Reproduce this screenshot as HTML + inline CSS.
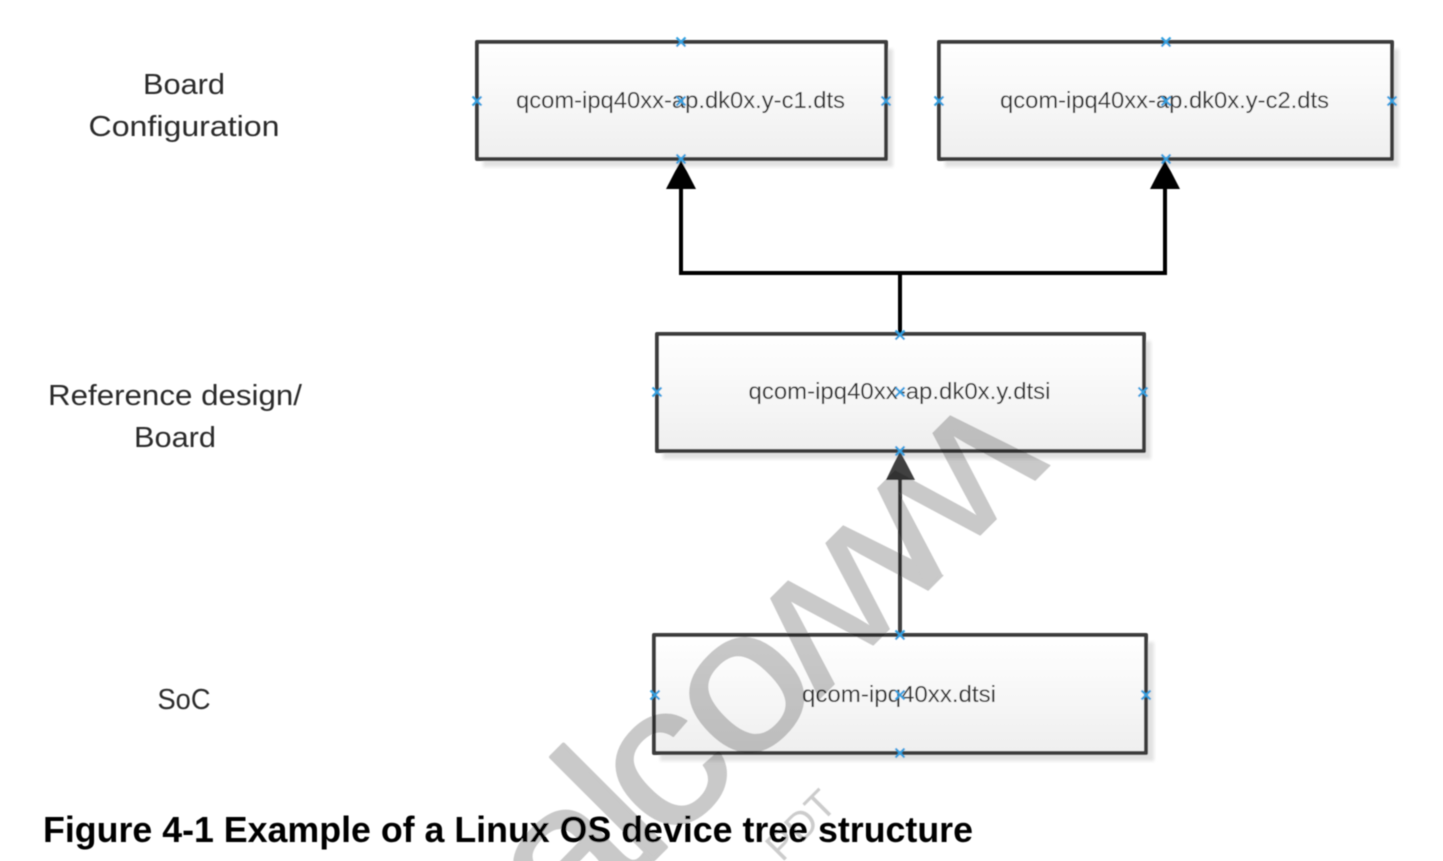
<!DOCTYPE html>
<html><head><meta charset="utf-8"><style>
html,body{margin:0;padding:0;background:#fff;width:1443px;height:861px;overflow:hidden}
svg{display:block}
</style></head><body>
<svg width="1443" height="861" viewBox="0 0 1443 861" xmlns="http://www.w3.org/2000/svg">
<defs>
<linearGradient id="g" x1="0" y1="0" x2="0" y2="1"><stop offset="0" stop-color="#ffffff"/><stop offset="1" stop-color="#efefef"/></linearGradient>
<filter id="s" x="-5%" y="-10%" width="110%" height="120%"><feGaussianBlur stdDeviation="1.5"/></filter>
<filter id="b" x="-5%" y="-5%" width="110%" height="110%"><feGaussianBlur stdDeviation="0.45"/></filter>
<g id="x"><path d="M-4.5,-4.5L4.5,4.5M-4.5,4.5L4.5,-4.5" stroke="#35a0e0" stroke-width="2.2" fill="none"/></g>
</defs>
<g filter="url(#b)">
<g fill="#e2e2e2" filter="url(#s)">
<rect x="483" y="49" width="410" height="118"/>
<rect x="945" y="49" width="454" height="118"/>
<rect x="663" y="341" width="488" height="118"/>
<rect x="660" y="642" width="494" height="119"/>
</g>
<g fill="url(#g)" stroke="#3c3c3c" stroke-width="4" stroke-linejoin="round">
<rect x="477" y="42" width="409" height="117"/>
<rect x="939" y="42" width="453" height="117"/>
<rect x="657" y="334" width="487" height="117"/>
<rect x="654" y="635" width="492" height="118"/>
</g>
<g fill="none" stroke="#000" stroke-width="4">
<path d="M681,185V273H1165V185"/>
<path d="M900,273V334"/>
</g>
<path d="M681,160L696,189H666Z" fill="#000"/>
<path d="M1165,160L1180,189H1150Z" fill="#000"/>
<path d="M900,635V475" stroke="#404040" stroke-width="4" fill="none"/>
<path d="M900,451L915,480H886Z" fill="#404040"/>
<g font-family="'Liberation Sans',sans-serif" font-size="23" fill="#333" text-anchor="middle">
<text x="680.5" y="108" textLength="329" lengthAdjust="spacingAndGlyphs">qcom-ipq40xx-ap.dk0x.y-c1.dts</text>
<text x="1164.5" y="108" textLength="329" lengthAdjust="spacingAndGlyphs">qcom-ipq40xx-ap.dk0x.y-c2.dts</text>
<text x="899.5" y="399" textLength="302" lengthAdjust="spacingAndGlyphs">qcom-ipq40xx-ap.dk0x.y.dtsi</text>
<text x="899" y="702" textLength="194" lengthAdjust="spacingAndGlyphs">qcom-ipq40xx.dtsi</text>
</g>
<g font-family="'Liberation Sans',sans-serif" font-size="29" fill="#2c2c2c" text-anchor="middle">
<text x="184" y="94" textLength="82" lengthAdjust="spacingAndGlyphs">Board</text>
<text x="184" y="136" textLength="191" lengthAdjust="spacingAndGlyphs">Configuration</text>
<text x="175" y="405" textLength="254" lengthAdjust="spacingAndGlyphs">Reference design/</text>
<text x="175" y="447" textLength="82" lengthAdjust="spacingAndGlyphs">Board</text>
<text x="184" y="709" textLength="53" lengthAdjust="spacingAndGlyphs">SoC</text>
</g>
<text x="43" y="842" font-family="'Liberation Sans',sans-serif" font-weight="bold" font-size="36" fill="#000" textLength="930" lengthAdjust="spacingAndGlyphs">Figure 4-1 Example of a Linux OS device tree structure</text>
<g>
<use href="#x" x="681" y="42"/><use href="#x" x="477" y="101"/><use href="#x" x="681" y="101"/><use href="#x" x="886" y="101"/><use href="#x" x="681" y="159"/>
<use href="#x" x="1166" y="42"/><use href="#x" x="939" y="101"/><use href="#x" x="1166" y="101"/><use href="#x" x="1392" y="101"/><use href="#x" x="1166" y="159"/>
<use href="#x" x="900" y="335"/><use href="#x" x="657" y="392"/><use href="#x" x="900" y="392"/><use href="#x" x="1143" y="392"/><use href="#x" x="900" y="451"/>
<use href="#x" x="900" y="635"/><use href="#x" x="655" y="695"/><use href="#x" x="900" y="695"/><use href="#x" x="1146" y="695"/><use href="#x" x="900" y="753"/>
</g>
<g style="mix-blend-mode:multiply" font-family="'Liberation Sans',sans-serif" font-size="200" fill="#c9c9c9" stroke="#c9c9c9" stroke-width="2" stroke-linejoin="round">
<text transform="translate(566,947) rotate(-45) scale(1.1,1)">a</text>
<text transform="translate(644,869) rotate(-45)" stroke-width="4">l</text>
<text transform="translate(667,848) rotate(-45) scale(1.1,1)">c</text>
<text transform="translate(741,776) rotate(-45) scale(1.1,1)">o</text>
<text transform="translate(868,501) rotate(135) scale(1.2,1)" stroke-width="1">w</text>
<text transform="translate(975,391) rotate(135) scale(1.2,1)" stroke-width="1">w</text>
<text transform="translate(782,863) rotate(-45)" font-size="40" stroke="none" fill="#cccccc">PDT</text>
</g>
</g>
</svg>
</body></html>
